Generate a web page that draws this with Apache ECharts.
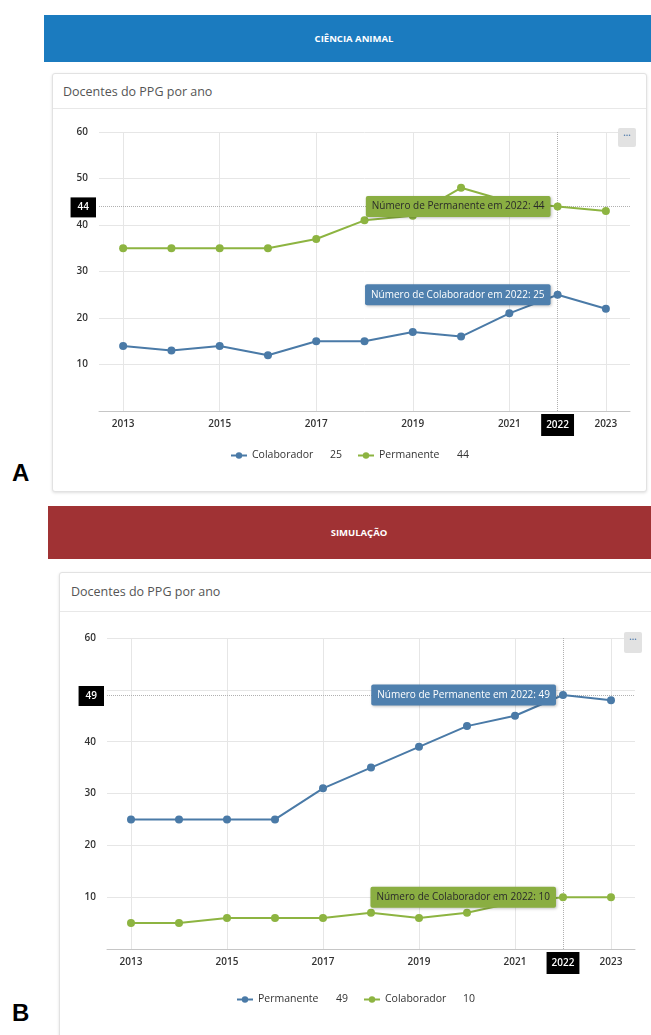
<!DOCTYPE html>
<html>
<head>
<meta charset="utf-8">
<script src="https://cdn.jsdelivr.net/npm/echarts@6/dist/echarts.min.js"></script>
<style>
  html, body { margin: 0; padding: 0; background: #fff; width: 651px; height: 1035px; overflow: hidden; font-family: 'Open Sans', sans-serif; }
  .abs { position: absolute; box-sizing: border-box; }
  .header { color: #fff; font-weight: 700; font-size: 9.5px; text-align: center; }
  .card { background: #fff; border: 1px solid #e2e2e2; box-shadow: 0 1px 3px rgba(0,0,0,0.13); border-radius: 3px; }
  .card-title { font-size: 12.5px; color: #555; line-height: 16px; white-space: nowrap; }
  .sep { height: 1px; background: #e8e8e8; }
  .menu { background: #e2e2e2; border-radius: 2px; color: #5b83b0; font-size: 9px; font-weight: 700; line-height: 14px; text-align: center; }
  .letter { font-family: 'Liberation Sans', Arial, sans-serif; font-weight: 700; font-size: 24px; color: #000; line-height: 28px; }
</style>
</head>
<body>
  <div class="abs header" style="left:44px;top:15px;width:620px;height:47px;line-height:47px;background:#1b7bbf;">CIÊNCIA ANIMAL</div>
  <div class="abs card" style="left:52px;top:73px;width:595px;height:419px;"></div>
  <div class="abs card-title" style="left:63px;top:84px;">Docentes do PPG por ano</div>
  <div class="abs sep" style="left:53px;top:108px;width:593px;"></div>
  <div id="chartA" class="abs" style="left:53px;top:109px;width:593px;height:381px;"></div>
  <div class="abs menu" style="left:618px;top:128px;width:18px;height:19px;">···</div>
  <div class="abs letter" style="left:12px;top:459px;">A</div>

  <div class="abs header" style="left:48px;top:506px;width:622px;height:53px;line-height:53px;background:#a03234;">SIMULAÇÃO</div>
  <div class="abs card" style="left:59px;top:572px;width:620px;height:500px;"></div>
  <div class="abs card-title" style="left:71px;top:584px;">Docentes do PPG por ano</div>
  <div class="abs sep" style="left:60px;top:611px;width:600px;"></div>
  <div id="chartB" class="abs" style="left:60px;top:612px;width:591px;height:423px;"></div>
  <div class="abs menu" style="left:624px;top:632px;width:18px;height:21px;">···</div>
  <div class="abs letter" style="left:12px;top:999px;">B</div>

<script>
// Anos exibidos no eixo x
const years = ['2013', '2014', '2015', '2016', '2017', '2018', '2019', '2020', '2021', '2022', '2023'];
// Ano destacado (cruz do cursor e rótulos)
const focusYear = '2022';

// Ciência Animal
const caColaborador = [14, 13, 14, 12, 15, 15, 17, 16, 21, 25, 22];
const caPermanente  = [35, 35, 35, 35, 37, 41, 42, 48, 45, 44, 43];

// Simulação
const simPermanente  = [25, 25, 25, 25, 31, 35, 39, 43, 45, 49, 48];
const simColaborador = [5, 5, 6, 6, 6, 7, 6, 7, 9, 10, 10];

// Escala do eixo y
const yMin = 0, yMax = 60, yStep = 10;

const FONT = "'Open Sans', sans-serif";
const BLUE = '#4a7aa7', GREEN = '#8db441';
const BLUE_BOX = '#4f80ae', GREEN_BOX = '#8aae42';

function lineSeries(name, values, color, boxColor, textColor) {
  const fi = years.indexOf(focusYear);
  return {
    type: 'line',
    name: name,
    symbol: 'circle',
    symbolSize: 8,
    showAllSymbol: true,
    lineStyle: { width: 2, color: color },
    itemStyle: { color: color },
    emphasis: { disabled: true },
    data: values.map((v, i) => i !== fi ? v : {
      value: v,
      label: {
        show: true,
        position: 'left',
        distance: 3,
        formatter: 'Número de ' + name + ' em ' + focusYear + ': ' + v,
        backgroundColor: boxColor,
        color: textColor,
        fontFamily: FONT,
        fontSize: 10,
        lineHeight: 12,
        padding: [5, 6, 4, 6],
        borderRadius: 2,
        shadowBlur: 3,
        shadowOffsetX: 1,
        shadowOffsetY: 1,
        shadowColor: 'rgba(0,0,0,0.25)'
      }
    })
  };
}

function buildOption(seriesDefs, grid, legendTop, pointerY) {
  const fi = years.indexOf(focusYear);
  const valueAt = {};
  seriesDefs.forEach(s => { valueAt[s.name] = s.values[fi]; });
  return {
    animation: false,
    textStyle: { fontFamily: FONT },
    grid: grid,
    legend: {
      top: legendTop,
      left: 'center',
      itemWidth: 16,
      itemHeight: 8,
      itemGap: 15,
      selectedMode: false,
      data: seriesDefs.map(s => s.name),
      formatter: name => '{n|' + name + '}{v|' + valueAt[name] + '}',
      textStyle: {
        fontFamily: FONT, fontSize: 10.5, color: '#333',
        rich: {
          n: { width: 78, fontFamily: FONT, fontSize: 10.5, color: '#333' },
          v: { fontFamily: FONT, fontSize: 10.5, color: '#333' }
        }
      }
    },
    xAxis: {
      type: 'category',
      data: years,
      boundaryGap: true,
      axisLine: { lineStyle: { color: '#c6c6c6', width: 1 } },
      axisTick: { show: false },
      axisLabel: { interval: 1, margin: 8, fontSize: 10, fontWeight: 600, color: '#333', fontFamily: FONT },
      splitLine: { show: true, interval: 1, alignWithLabel: true, lineStyle: { color: '#e6e6e6', width: 1 } },
      axisPointer: {
        show: true,
        type: 'line',
        value: fi,
        status: 'show',
        snap: true,
        triggerTooltip: false,
        z: 1,
        lineStyle: { color: '#b0b0b0', type: 'dotted', width: 1 },
        label: {
          show: true, backgroundColor: '#000', color: '#fff', fontSize: 10, fontWeight: 600,
          fontFamily: FONT, lineHeight: 12, padding: [5, 5, 5, 5], margin: 3, borderRadius: 0
        }
      }
    },
    yAxis: {
      type: 'value',
      min: yMin,
      max: yMax,
      interval: yStep,
      axisLine: { show: false },
      axisTick: { show: false },
      axisLabel: {
        showMinLabel: false, margin: 11, fontSize: 10, fontWeight: 600, color: '#333', fontFamily: FONT,
        // tick labels covered by the crosshair value box are left out
        formatter: v => Math.abs(v - pointerY) < 3 ? '' : String(v)
      },
      splitLine: { lineStyle: { color: '#e6e6e6', width: 1 } },
      axisPointer: {
        show: true,
        type: 'line',
        value: pointerY,
        status: 'show',
        snap: false,
        triggerTooltip: false,
        z: 1,
        lineStyle: { color: '#b0b0b0', type: 'dotted', width: 1 },
        label: {
          show: true, backgroundColor: '#000', color: '#fff', fontSize: 10, fontWeight: 600,
          fontFamily: FONT, lineHeight: 12, padding: [4, 7, 4, 7], margin: 3, borderRadius: 0,
          formatter: p => String(Math.round(p.value))
        }
      }
    },
    series: seriesDefs.map(s => lineSeries(s.name, s.values, s.color, s.box, s.text))
  };
}

const fiA = years.indexOf(focusYear);
const chartA = echarts.init(document.getElementById('chartA'), null, { renderer: 'canvas' });
chartA.setOption(buildOption(
  [
    { name: 'Colaborador', values: caColaborador, color: BLUE, box: BLUE_BOX, text: '#fff' },
    { name: 'Permanente', values: caPermanente, color: GREEN, box: GREEN_BOX, text: '#2a2a2a' }
  ],
  { left: 46, width: 531, top: 23, height: 279 },
  336,
  caPermanente[fiA]
));

const chartB = echarts.init(document.getElementById('chartB'), null, { renderer: 'canvas' });
chartB.setOption(buildOption(
  [
    { name: 'Permanente', values: simPermanente, color: BLUE, box: BLUE_BOX, text: '#fff' },
    { name: 'Colaborador', values: simColaborador, color: GREEN, box: GREEN_BOX, text: '#2a2a2a' }
  ],
  { left: 47, width: 528, top: 26, height: 311 },
  377,
  simPermanente[fiA]
));
</script>
</body>
</html>
